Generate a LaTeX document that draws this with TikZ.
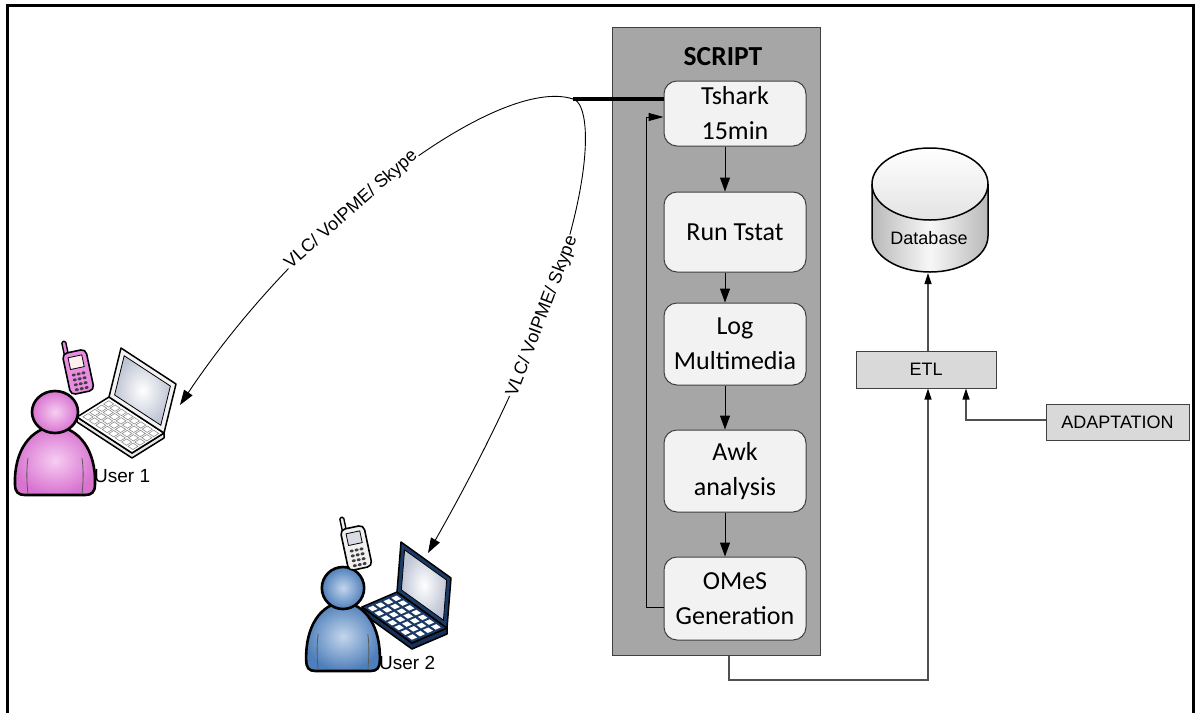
\documentclass[tikz,border=0pt]{standalone}
\usepackage{fontspec}
\setmainfont{Liberation Sans}
\newfontfamily\calibri{Carlito}
\usetikzlibrary{arrows.meta,calc}

\definecolor{panelgray}{HTML}{A6A6A6}
\definecolor{boxfill}{HTML}{F2F2F2}
\definecolor{edgegray}{HTML}{404040}
\definecolor{etlfill}{HTML}{D9D9D9}
\definecolor{wiregray}{HTML}{505050}
\definecolor{pinkin}{HTML}{F6CDF2}
\definecolor{pinkout}{HTML}{D873D0}
\definecolor{bluein}{HTML}{C3D6EC}
\definecolor{blueout}{HTML}{4F7FBA}
\definecolor{navy}{HTML}{1C3A66}
\definecolor{phonepink}{HTML}{E98DE1}
\definecolor{screenedge}{HTML}{BFC5D4}

\tikzset{
  % user silhouette: head and shoulders, #1 = centre colour, #2 = rim colour
  pics/person/.style 2 args={code={
    \shadedraw[inner color=#1, outer color=#2, draw=black, line width=2.6pt, line join=round]
      (-40,72) .. controls (-41,38) and (-24,16) .. (0,14)
      .. controls (24,16) and (41,38) .. (40,72)
      .. controls (40,80) and (37,83) .. (30,83) -- (-30,83)
      .. controls (-37,83) and (-40,80) .. (-40,72) -- cycle;
    \draw[black!65, line width=0.8pt] (-27,46) .. controls (-29,60) and (-28,72) .. (-27,82);
    \draw[black!65, line width=0.8pt] (27,46) .. controls (29,60) and (28,72) .. (27,82);
    \shadedraw[inner color=#1, outer color=#2, draw=black, line width=2.6pt]
      (0,0) ellipse[x radius=23pt, y radius=21pt];
  }},
  % mobile phone, #1 = casing colour, #2 = display colour
  pics/phone/.style 2 args={code={
    \filldraw[fill=#1, draw=black, line width=1.4pt, rounded corners=1.5pt] (-10,-32) rectangle (-6,-18);
    \filldraw[fill=#1, draw=black, line width=1.6pt, rounded corners=5pt] (-12,-20) rectangle (12,22);
    \filldraw[fill=#2, draw=black, line width=0.8pt] (-7,-15) rectangle (7,-3);
    \foreach \r in {0,...,3} \foreach \c in {-1,0,1}
      \fill[black!75] (\c*5, 3+\r*5) ellipse[x radius=2pt, y radius=1.5pt];
  }}
}

\begin{document}
\begin{tikzpicture}[x=1pt, y=-1pt,
  stepbox/.style={draw=edgegray, fill=boxfill, rounded corners=13pt, line width=1pt,
    minimum width=142pt, align=center, inner sep=0pt,
    font=\calibri\fontsize{26}{35}\selectfont},
  flatbox/.style={draw=edgegray, fill=etlfill, line width=1pt, inner sep=0pt,
    font=\fontsize{18}{22}\selectfont},
  flow/.style={draw=black, line width=1pt, -{Triangle[length=14pt,width=10pt]}},
  wire/.style={draw=wiregray, line width=1.2pt, -{Triangle[length=11pt,width=7pt,black]}},
  link/.style={draw=black, line width=0.9pt, -{Triangle[length=15pt,width=10pt]}},
  linklabel/.style={sloped, fill=white, inner sep=1pt, font=\fontsize{18}{22}\selectfont},
]
\useasboundingbox (0,0) rectangle (1195,713);

% outer frame (open at the bottom)
\draw[line width=3pt] (7.5,713) -- (7.5,5.5) -- (1193.5,5.5) -- (1193.5,713);

% script panel
\node[draw=edgegray, fill=panelgray, line width=1pt, minimum width=208pt,
      minimum height=628pt, inner sep=0pt] (panel) at (716,341) {};
\node[font=\calibri\bfseries\fontsize{27.5}{30}\selectfont, inner sep=0pt] (title) at (723,57) {SCRIPT};

\node[stepbox, minimum height=65pt] (tshark) at (735,113.5) {Tshark\\15min};
\node[stepbox, minimum height=80pt] (tstat)  at (735,232)   {Run Tstat};
\node[stepbox, minimum height=82pt] (logm)   at (735,344)   {Log\\Multimedia};
\node[stepbox, minimum height=82pt] (awk)    at (735,471)   {Awk\\analysis};
\node[stepbox, minimum height=83pt] (omes)   at (735,598.5) {OMeS\\Generation};

\coordinate (col) at (725,0);
\draw[flow] (tshark.south -| col) -- (tstat.north -| col);
\draw[flow] (tstat.south -| col) -- (logm.north -| col);
\draw[flow] (logm.south -| col) -- (awk.north -| col);
\draw[flow] (awk.south -| col) -- (omes.north -| col);

% loop back to the capture step
\coordinate (fbx) at (646,607);
\coordinate (fby) at (646,117);
\draw[flow, -{Triangle[length=15pt,width=8pt]}] (omes.west |- fbx) -- (fbx) -- (fby) -- (tshark.west |- fby);

% database
\shade[left color=gray!55, right color=gray!55, middle color=gray!6]
  (872,184) -- (872,236) arc[start angle=180, end angle=360, x radius=58pt, y radius=36pt] -- (988,184) -- cycle;
\shade[top color=white, bottom color=gray!22] (930,184) ellipse[x radius=58pt, y radius=36pt];
\draw[line width=1.5pt] (872,184) -- (872,236) arc[start angle=180, end angle=360, x radius=58pt, y radius=36pt] -- (988,184);
\draw[line width=1.5pt] (930,184) ellipse[x radius=58pt, y radius=36pt];
\node[font=\fontsize{18}{22}\selectfont, inner sep=0pt] (dbtext) at (929,238) {Database};
\coordinate (dbbase) at (930,273);

\node[flatbox, minimum width=140pt, minimum height=37pt] (etl) at (926,369.5) {ETL};
\node[flatbox, minimum width=143pt, minimum height=36pt] (adapt) at (1117.5,422) {ADAPTATION};

\coordinate (mainx) at (928,0);
\coordinate (down) at (729,680);
\coordinate (adx) at (966,420);
\draw[wire] (panel.south -| down) -- (down) -- (down -| mainx) -- (etl.south -| mainx);
\draw[wire] (adapt.west |- adx) -- (adx) -- (etl.south -| adx);
\draw[wire] (etl.north -| mainx) -- (dbbase -| mainx);

% ---- user 1: light laptop, pink phone ----
\filldraw[fill=gray!18, draw=black, line width=1.5pt, line join=round]
  (77,417) -- (77,422) -- (132,458) -- (164,438) -- (164,433) -- (132,453) -- cycle;
\begin{scope}[shift={(77,417)}, x={(55pt,-36pt)}, y={(32pt,20pt)}]
  \filldraw[fill=white, draw=black, line width=1.5pt, line join=round] (0,0) -- (1,0) -- (1,1) -- (0,1) -- cycle;
  \foreach \i in {0,...,7} \foreach \j in {0,...,3}
    \draw[black!45, line width=0.6pt] (0.05+\i*0.117,0.1+\j*0.215) -- ++(0.09,0) -- ++(0,0.16) -- ++(-0.09,0) -- cycle;
\end{scope}
\begin{scope}[shift={(109,397)}, x={(55pt,-36pt)}, y={(12pt,49pt)}]
  \filldraw[fill=gray!10, draw=black, line width=1.5pt, line join=round] (0,0) -- (1,0) -- (1,1) -- (0,1) -- cycle;
  \shadedraw[inner color=white, outer color=screenedge, draw=black, line width=0.8pt]
    (0.08,0.1) -- (0.92,0.1) -- (0.92,0.9) -- (0.08,0.9) -- cycle;
\end{scope}
\pic at (55,412) {person={pinkin}{pinkout}};
\pic[rotate=12] at (78,371) {phone={phonepink}{pink!25}};
\node[anchor=west, font=\fontsize{19}{22}\selectfont, inner sep=0pt] (user1) at (94,476) {User 1};

% ---- user 2: dark laptop, grey phone ----
\filldraw[fill=navy!85!black, draw=black, line width=1.5pt, line join=round]
  (362,607) -- (362,613) -- (412,649) -- (447,634) -- (447,628) -- (412,643) -- cycle;
\begin{scope}[shift={(362,607)}, x={(50pt,-36pt)}, y={(35pt,15pt)}]
  \filldraw[fill=navy, draw=black, line width=1.5pt, line join=round] (0,0) -- (1,0) -- (1,1) -- (0,1) -- cycle;
  \foreach \i in {0,...,6} \foreach \j in {0,...,3}
    \fill[white] (0.06+\i*0.132,0.08+\j*0.225) -- ++(0.09,0) -- ++(0,0.15) -- ++(-0.09,0) -- cycle;
\end{scope}
\begin{scope}[shift={(397,592)}, x={(50pt,-36pt)}, y={(4pt,50pt)}]
  \filldraw[fill=navy, draw=black, line width=1.5pt, line join=round] (0,0) -- (1,0) -- (1,1) -- (0,1) -- cycle;
  \shadedraw[inner color=white, outer color=screenedge, draw=black, line width=0.8pt]
    (0.08,0.1) -- (0.92,0.1) -- (0.92,0.9) -- (0.08,0.9) -- cycle;
\end{scope}
\pic[xscale=0.92] at (343,588) {person={bluein}{blueout}};
\pic[rotate=12] at (356,547) {phone={gray!12}{screenedge!60}};
\node[anchor=west, font=\fontsize{19}{22}\selectfont, inner sep=0pt] (user2) at (379,663) {User 2};

% ---- streams from the capture point to the users ----
\coordinate (hub) at (573,99);
\coordinate (u1in) at (180,405);
\coordinate (u2in) at (428,553);
\draw[line width=4pt] (hub) -- (tshark.west |- hub);
\draw[link] (hub) .. controls (500,75) and (305,218) .. (u1in)
  node[linklabel, pos=0.6] {VLC/ VoIPME/ Skype};
\draw[link] (hub) .. controls (598,105) and (600,250) .. (u2in)
  node[linklabel, pos=0.69] {VLC/ VoIPME/ Skype};

\end{tikzpicture}
\end{document}
